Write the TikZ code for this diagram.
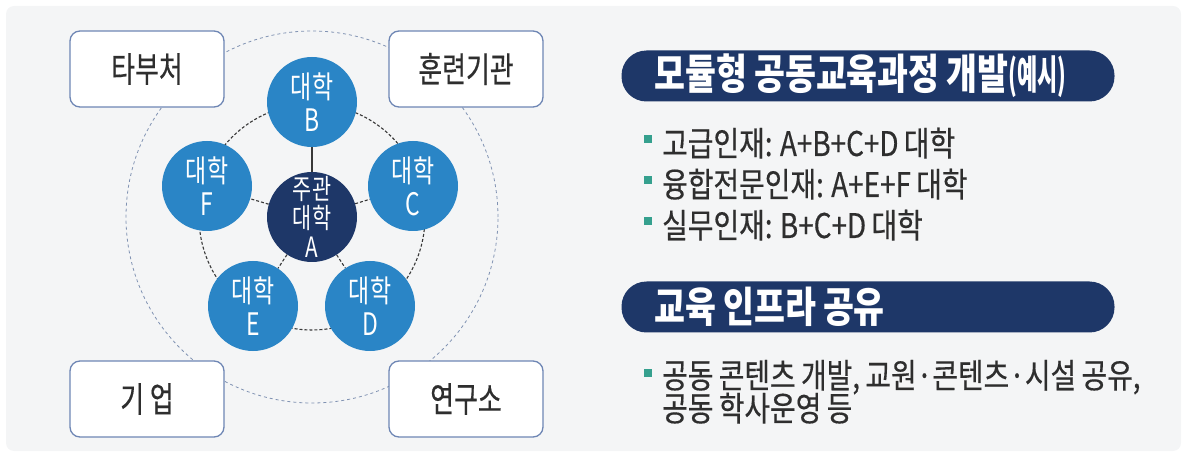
\documentclass[tikz,border=0pt]{standalone}
\usepackage{fontspec}
\usetikzlibrary{backgrounds}
\setmainfont{Noto Sans CJK KR}
\newfontfamily\krbox[FakeStretch=0.74, FakeBold=0.4]{Noto Sans CJK KR}
\newfontfamily\krcirc[FakeStretch=0.74]{Noto Sans CJK KR}
\newfontfamily\kritem[FakeStretch=0.82, FakeBold=0.4, WordSpace=0.85]{Noto Sans CJK KR}
\newfontfamily\krhead[FakeStretch=0.8]{Noto Sans CJK KR}
\newfontfamily\krtight[FakeStretch=0.55]{Noto Sans CJK KR}
\newcommand\headgap{\hspace{7pt}}
\definecolor{unilight}{HTML}{2A85C6}
\definecolor{uninavy}{HTML}{1E3768}
\definecolor{boxline}{HTML}{6E86B4}
\definecolor{ringline}{HTML}{8092B2}
\definecolor{bulletc}{HTML}{35A08E}
\definecolor{panelbg}{HTML}{F4F5F6}
\definecolor{txtgray}{HTML}{2E2E2E}
\tikzset{
  univ/.style={circle, fill=unilight, minimum size=90pt, inner sep=0pt,
    text=white, align=center, font=\krcirc\fontsize{31}{33}\selectfont},
  hostuniv/.style={univ, fill=uninavy, font=\krcirc\fontsize{28}{29}\selectfont},
  partner/.style={draw=boxline, line width=1.3pt, rounded corners=10pt,
    fill=white, minimum width=154pt, minimum height=76pt,
    text=txtgray, font=\krbox\fontsize{35}{38}\selectfont},
  headbar/.style={fill=uninavy, rounded corners=25pt, minimum height=51pt,
    text width=427pt, inner xsep=33pt, inner ysep=2pt, align=left, text=white,
    font=\krhead\bfseries\fontsize{42}{44}\selectfont},
  bulletsq/.style={fill=bulletc, minimum size=8pt, inner sep=0pt},
  item/.style={anchor=base west, inner sep=0pt, text=txtgray,
    font=\kritem\fontsize{34}{36}\selectfont},
  link/.style={densely dashed, draw=black!78, line width=1.1pt},
  ring/.style={dashed, draw=ringline, line width=0.8pt}
}
\begin{document}
\begin{tikzpicture}[x=1pt, y=-1pt]
  \useasboundingbox (0,0) rectangle (1187,457);
  % universities
  \node[hostuniv] (A) at (312,217) {주관\\대학\\A};
  \node[univ] (B) at (312,102) {대학\\B};
  \node[univ] (C) at (413,186) {대학\\C};
  \node[univ] (D) at (370,306) {대학\\D};
  \node[univ] (E) at (253,306) {대학\\E};
  \node[univ] (F) at (207,186) {대학\\F};
  % partners
  \node[partner] (gov) at (147,69) {타부처};
  \node[partner] (train) at (466,69) {훈련기관};
  \node[partner] (firm) at (147,399) {기 업};
  \node[partner] (lab) at (466,399) {연구소};
  % right side
  \node[headbar] (h1) at (868,76) {모듈형\headgap 공동교육과정\headgap 개발{\krtight\fontsize{40}{42}\selectfont(예시)}};
  \node[bulletsq] (s1) at (648,139) {};
  \node[item] (t1) at (662,156) {고급인재: A+B+C+D 대학};
  \node[bulletsq] (s2) at (648,180) {};
  \node[item] (t2) at (662,197) {융합전문인재: A+E+F 대학};
  \node[bulletsq] (s3) at (648,221) {};
  \node[item] (t3) at (662,238) {실무인재: B+C+D 대학};
  \node[headbar] (h2) at (868,307) {교육\headgap 인프라\headgap 공유};
  \node[bulletsq] (s4) at (648,373) {};
  \node[item] (t4) at (662,388) {공동 콘텐츠 개발, 교원·콘텐츠·시설 공유,};
  \node[item] (t5) at (662,421) {공동 학사운영 등};
  \begin{scope}[on background layer]
    \fill[panelbg, rounded corners=8pt] (6,6) rectangle (1181,451);
    \draw[ring] (A.center) circle [radius=186pt];
    \draw[link] (A.center) circle [radius=113pt];
    \draw[draw=black!78, line width=1.1pt] (A) -- (B);
    \foreach \u in {C,D,E,F}
      \draw[link] (A) -- (\u);
  \end{scope}
\end{tikzpicture}
\end{document}
